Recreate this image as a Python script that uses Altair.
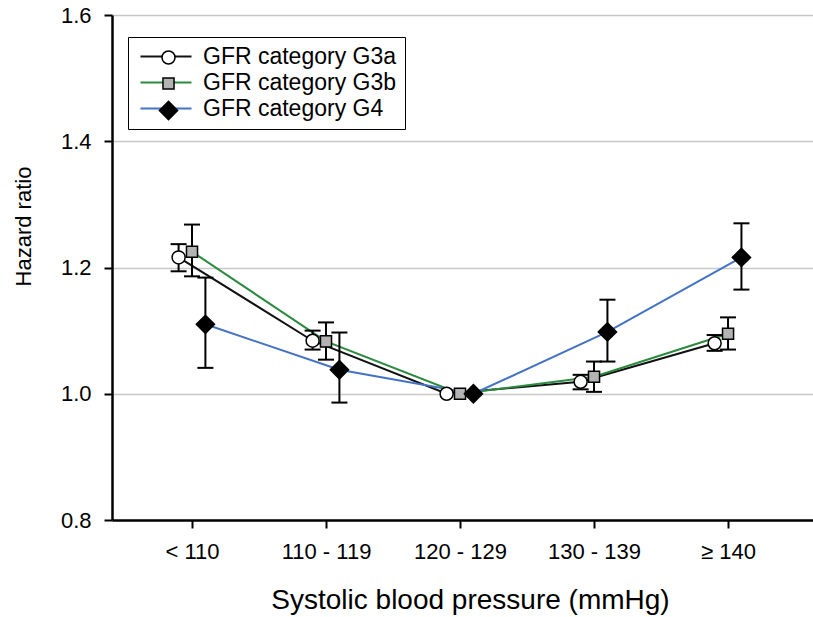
import json
import altair as alt
import pandas as pd

categories = ["< 110", "110 - 119", "120 - 129", "130 - 139", "≥ 140"]
series = ["GFR category G3a", "GFR category G3b", "GFR category G4"]
marker_keys = ["G3a", "G3b", "G4"]

hr_g3a = [1.216, 1.084, 1.000, 1.019, 1.080]
lo_g3a = [1.194, 1.070, None, 1.007, 1.068]
hi_g3a = [1.237, 1.100, None, 1.030, 1.093]

hr_g3b = [1.225, 1.083, 1.000, 1.027, 1.095]
lo_g3b = [1.186, 1.054, None, 1.003, 1.070]
hi_g3b = [1.268, 1.113, None, 1.051, 1.121]

hr_g4 = [1.110, 1.038, 1.000, 1.098, 1.216]
lo_g4 = [1.041, 0.986, None, 1.051, 1.165]
hi_g4 = [1.184, 1.097, None, 1.149, 1.270]

line_colors = ["#111111", "#2b8a3e", "#4472c4"]
# circle (built-in), square and diamond as paths scaled to the common symbol size
marker_shapes = [
    "circle",
    "M-0.85,-0.85L0.85,-0.85L0.85,0.85L-0.85,0.85Z",
    "M-1.4,0L0,-1.4L1.4,0L0,1.4Z",
]
marker_fills = ["white", "#b3b3b3", "black"]
marker_strokes = ["black", "black", "black"]
SYMBOL_SIZE = 169

rows = []
for s, m, (hr, lo, hi) in zip(series, marker_keys,
                              [(hr_g3a, lo_g3a, hi_g3a),
                               (hr_g3b, lo_g3b, hi_g3b),
                               (hr_g4, lo_g4, hi_g4)]):
    for i, c in enumerate(categories):
        rows.append({"idx": i, "category": c, "series": s, "marker": m,
                     "hr": hr[i], "lo": lo[i], "hi": hi[i]})
df = pd.DataFrame(rows)

FONT = "Liberation Sans"
label_expr = json.dumps(categories) + "[datum.value]"

base = alt.Chart(df).transform_calculate(
    xpos="datum.idx + (datum.marker == 'G3a' ? -0.1 : (datum.marker == 'G4' ? 0.1 : 0))"
)

x_enc = alt.X(
    "xpos:Q",
    scale=alt.Scale(domain=[-0.597, 4.634], nice=False, zero=False),
    axis=alt.Axis(
        values=[0, 1, 2, 3, 4], labelExpr=label_expr, grid=False,
        title="Systolic blood pressure (mmHg)",
        titleFontSize=28, titleFont=FONT, titleFontWeight="normal", titleColor="black",
        titleX=358, titleY=88, titleBaseline="alphabetic", titleAlign="center",
        labelFontSize=22, labelFont=FONT, labelColor="black", labelPadding=13,
        tickSize=8, tickWidth=2, tickColor="black",
        domainColor="black", domainWidth=2.5,
    ),
)

y_scale = alt.Scale(domain=[0.8, 1.6], nice=False, zero=False)
y_enc = alt.Y(
    "hr:Q", scale=y_scale,
    axis=alt.Axis(
        values=[0.8, 1.0, 1.2, 1.4, 1.6], format=".1f",
        title="Hazard ratio", titleFontSize=22, titleFont=FONT,
        titleFontWeight="normal", titleColor="black",
        titleX=-89, titleY=211, titleAngle=-90, titleAlign="center",
        titleBaseline="middle",
        labelFontSize=22, labelFont=FONT, labelColor="black", labelPadding=13,
        tickSize=8, tickWidth=2, tickColor="black",
        domainColor="black", domainWidth=2.5,
        grid=True, gridColor="#c8c8c8", gridWidth=1.5,
    ),
)

lines = base.mark_line(strokeWidth=2).encode(
    x=x_enc, y=y_enc,
    color=alt.Color(
        "series:N",
        scale=alt.Scale(domain=series, range=line_colors),
        legend=alt.Legend(
            title=None, orient="none", legendX=16, legendY=22,
            symbolType="M-0.7,0L4.4,0", symbolSize=400, symbolStrokeWidth=2,
            labelFontSize=23, labelFont=FONT, labelColor="black", labelLimit=400,
            labelOffset=44, rowPadding=2, padding=8,
            strokeColor="black", fillColor="white",
        ),
    ),
)

err = base.transform_filter("isValid(datum.lo)").mark_rule(
    color="black", strokeWidth=2
).encode(x="xpos:Q", y=alt.Y("lo:Q", scale=y_scale), y2="hi:Q")

cap_lo = base.transform_filter("isValid(datum.lo)").mark_tick(
    orient="horizontal", size=16, thickness=2, color="black", opacity=1
).encode(x="xpos:Q", y=alt.Y("lo:Q", scale=y_scale))

cap_hi = base.transform_filter("isValid(datum.hi)").mark_tick(
    orient="horizontal", size=16, thickness=2, color="black", opacity=1
).encode(x="xpos:Q", y=alt.Y("hi:Q", scale=y_scale))

points = base.mark_point(filled=True, strokeWidth=1.5, opacity=1,
                         size=SYMBOL_SIZE).encode(
    x="xpos:Q", y=alt.Y("hr:Q", scale=y_scale),
    shape=alt.Shape(
        "marker:N",
        scale=alt.Scale(domain=marker_keys, range=marker_shapes),
        legend=alt.Legend(
            title=None, orient="none", legendX=45, legendY=31,
            symbolStrokeColor="black", symbolStrokeWidth=1.5, symbolSize=SYMBOL_SIZE,
            labelFontSize=23, labelFont=FONT, labelExpr="''", labelOpacity=0,
            rowPadding=2, padding=0,
        ),
    ),
    fill=alt.Fill("marker:N", scale=alt.Scale(domain=marker_keys, range=marker_fills)),
    stroke=alt.Stroke("marker:N", scale=alt.Scale(domain=marker_keys, range=marker_strokes)),
)

chart = alt.layer(lines, err, cap_lo, cap_hi, points).properties(
    width=701, height=505,
    padding={"left": 112, "top": 15, "right": 0, "bottom": 97},
    autosize=alt.AutoSizeParams(type="none"),
    background="white",
).configure_view(strokeWidth=0)

chart.save("out.html", embed_options={"renderer": "svg", "actions": False})
